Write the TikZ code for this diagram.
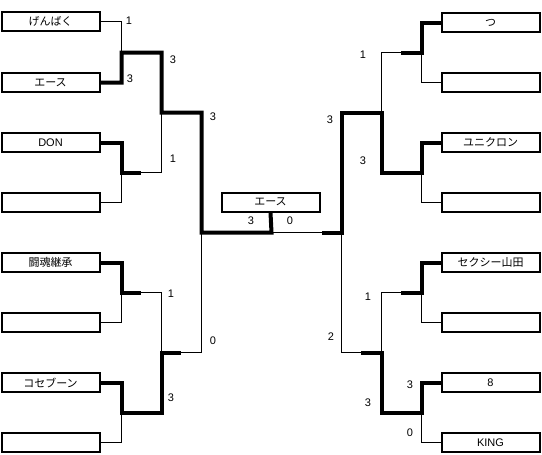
\documentclass[tikz,border=0pt]{standalone}
\usepackage{fontspec}
\setmainfont{Liberation Sans}
\newfontfamily\jp{Noto Sans CJK JP}
\begin{document}
\begin{tikzpicture}[x=1pt,y=-1pt,
  team/.style={draw, line width=2pt, minimum width=98pt, minimum height=19pt, inner sep=0pt, font=\fontsize{11}{12}\selectfont},
  thinline/.style={line width=1pt, line join=miter},
  winline/.style={line width=4pt, line join=miter},
  score/.style={font=\fontsize{11}{12}\selectfont, inner sep=0pt}]
\useasboundingbox (0,0) rectangle (542,455);
% left boxes
\node[team] (L1) at (50.5,21.5) {\jp げんばく};
\node[team] (L2) at (50.5,82.5) {\jp エース};
\node[team] (L3) at (50.5,142.5) {DON};
\node[team] (L4) at (50.5,202.5) {};
\node[team] (L5) at (50.5,262.5) {\jp 闘魂継承};
\node[team] (L6) at (50.5,322.5) {};
\node[team] (L7) at (50.5,382.5) {\jp コセブーン};
\node[team] (L8) at (50.5,442.5) {};
% right boxes
\node[team] (R1) at (490.5,22.5) {\jp つ};
\node[team] (R2) at (490.5,82.5) {};
\node[team] (R3) at (490.5,142.5) {\jp ユニクロン};
\node[team] (R4) at (490.5,202.5) {};
\node[team] (R5) at (490.5,262.5) {\jp セクシー山田};
\node[team] (R6) at (490.5,322.5) {};
\node[team] (R7) at (490.5,382.5) {8};
\node[team] (R8) at (490.5,442.5) {KING};
% champion
\node[team] (C) at (270.5,202) {\jp エース};
% junctions
\coordinate (m12) at (121.5,52.5);
\coordinate (m34) at (121.5,172.5);
\coordinate (m56) at (121.5,292.5);
\coordinate (m78) at (121.5,412.5);
\coordinate (s1) at (161.5,112.5);
\coordinate (s2) at (161.5,352.5);
\coordinate (f) at (201.5,232.5);
\coordinate (c) at (271.5,232.5);
\coordinate (n12) at (421.5,52.5);
\coordinate (n34) at (421.5,172.5);
\coordinate (n56) at (421.5,292.5);
\coordinate (n78) at (421.5,412.5);
\coordinate (t1) at (381.5,112.5);
\coordinate (t2) at (381.5,352.5);
\coordinate (g) at (341.5,232.5);
% partial ends
\coordinate (h34) at (141,172.5);
\coordinate (h56) at (141,292.5);
\coordinate (h2) at (181,352.5);
\coordinate (k12) at (401,52.5);
\coordinate (k56) at (401,292.5);
\coordinate (k2) at (361,352.5);
\coordinate (kg) at (322,232.5);
% thin structure
\draw[thinline] (L1.east) -| (m12) |- (L2.east);
\draw[thinline] (L3.east) -| (m34) |- (L4.east);
\draw[thinline] (L5.east) -| (m56) |- (L6.east);
\draw[thinline] (L7.east) -| (m78) |- (L8.east);
\draw[thinline] (m12) -| (s1);
\draw[thinline] (m34) -| (s1);
\draw[thinline] (m56) -| (s2);
\draw[thinline] (m78) -| (s2);
\draw[thinline] (s1) -| (f);
\draw[thinline] (s2) -| (f);
\draw[thinline] (f) -- (c) -- (g);
\draw[thinline] (R1.west) -| (n12) |- (R2.west);
\draw[thinline] (R3.west) -| (n34) |- (R4.west);
\draw[thinline] (R5.west) -| (n56) |- (R6.west);
\draw[thinline] (R7.west) -| (n78) |- (R8.west);
\draw[thinline] (n12) -| (t1);
\draw[thinline] (n34) -| (t1);
\draw[thinline] (n56) -| (t2);
\draw[thinline] (n78) -| (t2);
\draw[thinline] (t1) -| (g);
\draw[thinline] (t2) -| (g);
% winners
\draw[winline] (L2.east) -| (m12) -| (s1) -| (f) -- (c) -- (C.south);
\draw[winline] (L3.east) -| (m34) -- (h34);
\draw[winline] (L5.east) -| (m56) -- (h56);
\draw[winline] (L7.east) -| (m78) -| (s2) -- (h2);
\draw[winline] (R1.west) -| (n12) -- (k12);
\draw[winline] (R3.west) -| (n34) -| (t1) -| (g) -- (kg);
\draw[winline] (R5.west) -| (n56) -- (k56);
\draw[winline] (R7.west) -| (n78) -| (t2) -- (k2);
% scores left
\node[score] (a1) at (129,21) {1};
\node[score] (a2) at (130,79) {3};
\node[score] (a3) at (173,60) {3};
\node[score] (a4) at (173,159) {1};
\node[score] (a5) at (213,117) {3};
\node[score] (a6) at (171,294) {1};
\node[score] (a7) at (171,398) {3};
\node[score] (a8) at (213,341) {0};
% scores right
\node[score] (b1) at (363,55) {1};
\node[score] (b2) at (363,161) {3};
\node[score] (b3) at (330,120) {3};
\node[score] (b4) at (368,297) {1};
\node[score] (b5) at (368,403) {3};
\node[score] (b6) at (331,337) {2};
\node[score] (b7) at (410,385) {3};
\node[score] (b8) at (410,433) {0};
% final scores
\node[score] (cs1) at (251,221) {3};
\node[score] (cs2) at (290,221) {0};
\end{tikzpicture}
\end{document}
